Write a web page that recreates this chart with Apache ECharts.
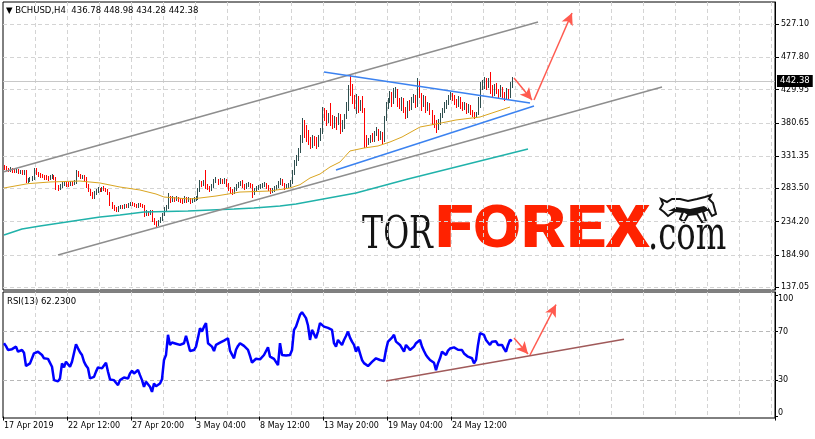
<!DOCTYPE html>
<html><head><meta charset="utf-8">
<script src="https://cdn.jsdelivr.net/npm/echarts@6/dist/echarts.min.js"></script>
<style>html,body{margin:0;padding:0;background:#fff;}#c{width:815px;height:439px;}</style>
</head><body><div id="c"></div>
<script>
const symbolName = 'BCHUSD,H4';
const xTickLabels = ['17 Apr 2019','22 Apr 12:00','27 Apr 20:00','3 May 04:00','8 May 12:00','13 May 20:00','19 May 04:00','24 May 12:00'];
const priceTicks = [137.05, 184.90, 234.20, 283.50, 331.35, 380.65, 429.95, 477.80, 527.10];
const rsiTicks = [0, 30, 70, 100];
const rsiLevels = [30, 70];

const opens = [316.0,313.7,312.2,310.7,312.2,310.7,309.3,310.7,307.8,309.3,
307.8,309.3,294.4,295.9,297.4,298.9,312.2,306.3,304.8,303.3,
301.8,300.4,299.8,298.9,300.4,301.8,298.9,285.5,284.1,287.0,
290.0,291.5,290.0,289.5,291.5,291.0,293.0,307.8,303.3,300.4,
301.8,298.9,288.5,281.1,276.7,272.2,276.7,279.6,282.6,281.1,
284.1,282.6,281.1,276.7,261.9,257.4,254.5,251.5,255.9,257.4,
255.9,258.9,257.4,260.4,261.9,260.4,258.9,257.4,260.4,258.9,
257.4,245.6,248.5,247.0,250.0,236.7,232.2,230.8,235.2,238.2,
245.6,253.0,255.9,269.3,266.3,269.3,267.8,269.3,267.8,266.3,
264.8,269.3,266.3,267.8,264.8,266.3,267.8,269.3,281.1,291.5,
290.0,293.0,287.0,285.5,282.6,287.0,294.4,295.9,293.0,295.9,
294.4,295.9,290.0,284.1,279.6,278.1,282.6,287.0,290.0,291.5,
287.0,285.5,288.5,290.0,288.5,276.7,281.1,284.1,285.5,287.0,
288.5,290.0,287.0,282.6,279.6,281.1,284.1,287.0,291.5,295.9,
290.0,285.5,287.0,288.5,293.0,307.8,322.6,328.5,340.4,355.2,
381.8,375.9,367.0,355.2,347.8,358.1,352.2,347.8,358.1,370.0,
399.6,396.6,384.8,392.2,380.3,377.4,387.7,381.8,392.2,372.9,
381.8,390.7,402.5,432.2,426.3,414.4,407.0,417.4,402.5,411.4,
399.6,355.2,350.7,353.7,359.6,355.2,367.0,370.0,358.1,365.5,
355.2,387.7,407.0,414.4,424.8,412.9,426.3,429.2,414.4,408.5,
414.4,402.5,390.7,408.5,402.5,415.9,420.3,408.5,441.1,421.8,
409.9,418.8,404.0,408.5,396.6,387.7,381.8,374.4,381.8,392.2,
399.6,407.0,411.4,418.8,423.3,420.3,411.4,408.5,417.4,407.0,
404.0,408.5,399.6,405.5,396.6,393.7,390.7,395.1,417.4,436.6,
438.1,445.5,435.1,444.0,429.2,423.3,435.1,426.3,421.8,432.2,
423.3,418.8,429.2,420.3,436.78];

const closes = [313.7,312.2,310.7,312.2,310.7,309.3,310.7,307.8,309.3,307.8,
309.3,294.4,295.9,297.4,298.9,312.2,306.3,304.8,303.3,301.8,
300.4,299.8,298.9,300.4,301.8,298.9,285.5,284.1,287.0,290.0,
291.5,290.0,289.5,291.5,291.0,293.0,307.8,303.3,300.4,301.8,
298.9,288.5,281.1,276.7,272.2,276.7,279.6,282.6,281.1,284.1,
282.6,281.1,276.7,261.9,257.4,254.5,251.5,255.9,257.4,255.9,
258.9,257.4,260.4,261.9,260.4,258.9,257.4,260.4,258.9,257.4,
245.6,248.5,247.0,250.0,236.7,232.2,230.8,235.2,238.2,245.6,
253.0,255.9,269.3,266.3,269.3,267.8,269.3,267.8,266.3,264.8,
269.3,266.3,267.8,264.8,266.3,267.8,269.3,281.1,291.5,290.0,
293.0,287.0,285.5,282.6,287.0,294.4,295.9,293.0,295.9,294.4,
295.9,290.0,284.1,279.6,278.1,282.6,287.0,290.0,291.5,287.0,
285.5,288.5,290.0,288.5,276.7,281.1,284.1,285.5,287.0,288.5,
290.0,287.0,282.6,279.6,281.1,284.1,287.0,291.5,295.9,290.0,
285.5,287.0,288.5,293.0,307.8,322.6,328.5,340.4,355.2,381.8,
375.9,367.0,355.2,347.8,358.1,352.2,347.8,358.1,370.0,399.6,
396.6,384.8,392.2,380.3,377.4,387.7,381.8,392.2,372.9,381.8,
390.7,402.5,432.2,426.3,414.4,407.0,417.4,402.5,411.4,399.6,
355.2,350.7,353.7,359.6,355.2,367.0,370.0,358.1,365.5,355.2,
387.7,407.0,414.4,424.8,412.9,426.3,429.2,414.4,408.5,414.4,
402.5,390.7,408.5,402.5,415.9,420.3,408.5,441.1,421.8,409.9,
418.8,404.0,408.5,396.6,387.7,381.8,374.4,381.8,392.2,399.6,
407.0,411.4,418.8,423.3,420.3,411.4,408.5,417.4,407.0,404.0,
408.5,399.6,405.5,396.6,393.7,390.7,395.1,417.4,436.6,438.1,
445.5,435.1,444.0,429.2,423.3,435.1,426.3,421.8,432.2,423.3,
418.8,429.2,420.3,436.78,442.38];

const highs = [317.5,316.0,314.0,314.6,313.5,312.0,313.8,311.9,311.4,310.5,
311.0,310.2,298.6,300.1,302.0,314.0,313.0,308.0,306.5,305.0,
303.4,302.7,302.0,303.6,304.5,303.0,300.2,288.0,290.0,292.5,
294.0,293.2,292.4,293.8,294.0,295.5,311.0,309.0,305.2,304.0,
303.0,300.0,290.0,283.0,278.4,279.0,282.4,285.2,284.6,286.0,
286.4,284.4,283.0,278.0,263.5,259.0,256.2,258.0,259.6,259.0,
261.0,260.5,262.5,264.0,263.4,262.0,260.6,262.2,261.8,260.0,
258.5,251.0,250.4,252.0,251.0,239.0,234.6,237.0,241.0,247.5,
255.5,259.0,276.7,272.0,272.5,271.0,272.0,271.2,270.0,268.5,
271.5,270.8,270.5,269.0,268.8,270.6,272.0,283.5,295.9,294.0,
296.5,310.7,290.0,287.5,289.5,297.0,300.4,297.8,299.0,298.0,
299.5,298.0,291.5,285.5,282.0,285.0,289.5,292.8,294.4,295.9,
290.0,291.0,292.5,292.0,290.5,284.0,286.5,288.0,289.6,291.0,
292.4,292.0,288.5,284.6,283.5,286.4,289.0,293.8,299.0,297.0,
291.5,290.0,291.8,296.0,310.7,325.5,333.0,343.3,362.6,387.7,
384.8,377.4,370.0,359.6,362.6,361.1,359.6,362.6,372.9,404.0,
402.5,399.6,395.1,409.9,392.2,390.7,389.2,395.1,393.7,384.8,
393.7,411.4,436.6,451.4,438.1,421.8,423.3,420.3,414.4,420.3,
402.5,362.6,358.1,362.6,365.5,368.5,374.4,371.4,368.5,367.0,
390.7,411.4,417.4,427.7,426.3,432.2,433.7,430.7,417.4,418.8,
417.4,404.0,412.9,414.4,418.8,423.3,421.8,447.0,442.5,424.8,
421.8,420.3,411.4,410.0,399.6,392.2,384.8,386.0,395.1,402.5,
411.4,414.4,421.8,426.3,424.8,421.8,415.9,420.3,418.8,411.4,
411.4,409.9,408.5,407.0,399.6,396.6,397.0,419.0,441.1,444.0,
448.5,447.0,447.0,455.9,436.6,438.1,440.0,430.7,436.6,433.7,
426.3,432.2,430.7,441.1,448.98];

const lows = [311.8,310.5,308.9,309.0,308.2,307.4,308.0,305.6,306.0,305.2,
305.5,292.5,292.8,294.5,296.0,297.5,304.4,302.5,301.0,299.9,
298.0,297.6,296.5,297.0,299.0,296.8,283.0,281.5,282.6,285.8,
288.6,287.5,287.0,288.0,289.0,289.8,292.0,301.5,298.5,298.8,
295.5,286.0,279.0,273.5,269.5,270.0,275.0,278.2,279.0,279.8,
280.5,279.0,274.5,259.6,255.0,252.0,249.5,250.2,254.0,254.0,
254.6,255.5,256.0,259.0,258.5,257.0,255.4,256.0,257.0,255.6,
243.0,244.2,244.6,245.5,234.5,230.5,226.3,228.8,233.5,236.8,
244.0,251.0,254.5,264.0,264.8,265.5,265.8,265.2,263.5,262.4,
263.2,263.8,264.5,262.5,263.0,264.7,266.0,268.0,279.5,287.0,
288.5,284.1,283.0,280.0,281.0,285.5,292.5,290.5,291.5,291.0,
292.0,287.5,281.5,277.0,275.2,276.5,281.0,285.5,288.0,285.5,
283.0,284.0,286.8,286.0,270.7,275.5,279.6,282.6,284.0,285.5,
286.8,284.8,280.5,276.8,277.5,279.8,282.6,285.5,290.0,287.8,
283.0,283.6,285.0,287.0,291.5,304.8,318.1,325.5,337.4,352.2,
359.6,353.7,349.2,343.3,345.0,347.8,343.3,346.3,355.2,366.0,
384.8,377.4,381.8,377.4,372.9,374.4,371.4,378.8,365.5,368.5,
372.9,387.7,399.6,421.8,409.9,402.5,395.1,396.6,399.6,396.6,
344.8,346.3,349.2,352.2,353.7,353.7,362.6,355.2,356.6,350.7,
353.7,384.8,402.5,411.4,405.5,409.9,418.8,405.5,402.5,399.6,
396.6,387.7,389.2,399.6,401.0,411.4,404.0,406.0,418.8,399.6,
405.5,396.6,399.6,393.7,378.8,374.4,367.0,371.4,378.8,389.2,
396.6,403.0,408.5,415.9,414.4,408.5,404.0,405.5,403.0,399.6,
401.0,395.1,396.6,393.7,390.7,387.7,389.2,393.7,404.0,430.7,
432.2,430.7,433.7,425.0,420.3,421.8,424.8,418.8,420.3,418.8,
414.4,417.4,417.4,418.8,434.28];

const rsiValues = [60.4,58.0,54.8,55.0,55.5,56.2,57.6,53.4,54.0,54.8,
52.6,41.6,43.0,43.8,45.0,52.1,52.5,53.4,52.0,50.7,
48.0,48.5,47.5,47.1,41.0,30.0,28.6,29.0,31.4,43.8,
40.5,45.2,44.0,41.0,45.2,46.6,59.6,56.2,53.0,50.7,
45.2,42.0,39.7,31.4,30.0,32.7,37.0,40.5,39.5,39.7,
41.0,44.3,36.9,30.6,30.0,30.0,27.8,25.9,30.0,31.0,
32.2,31.5,31.4,35.5,37.7,35.5,36.0,38.3,34.1,30.0,
24.5,28.6,30.0,24.5,20.3,27.2,25.0,26.0,27.2,30.8,
46.6,50.7,67.3,59.0,61.0,60.4,60.0,59.5,59.0,59.5,
60.4,66.4,60.4,54.0,54.5,54.8,57.6,65.0,72.8,70.0,
74.0,77.0,60.4,59.0,57.6,54.0,59.0,60.0,60.9,61.5,
62.6,63.5,64.5,54.3,51.0,48.0,55.0,58.2,60.4,59.5,
58.2,59.0,55.0,49.9,44.5,43.8,47.6,47.3,47.1,48.0,
50.7,52.0,57.1,49.3,48.0,47.5,46.6,42.4,60.4,50.7,
51.5,50.2,50.9,50.7,54.8,71.4,74.1,79.0,83.8,86.0,
87.4,81.1,75.0,63.1,71.4,70.0,64.5,70.0,77.0,76.0,
74.1,73.5,73.0,72.8,71.4,60.4,57.6,63.1,61.0,59.0,
63.1,66.4,70.0,65.0,61.7,59.0,53.4,57.6,52.0,46.6,
44.0,42.4,41.6,43.0,45.0,46.6,48.0,47.3,46.6,46.0,
45.7,55.0,61.7,63.1,65.0,67.3,61.7,60.4,59.0,57.6,
53.4,59.0,57.0,54.8,56.0,57.6,60.4,62.0,63.1,57.6,
54.0,50.7,48.5,46.6,45.0,44.3,38.3,43.8,48.0,53.4,
52.0,50.7,54.3,56.0,57.6,57.0,56.2,55.0,53.4,54.8,
52.0,50.7,49.3,48.5,48.0,43.8,46.6,59.0,68.7,68.0,
67.3,63.1,61.0,59.0,61.7,63.1,62.0,59.0,59.5,59.0,
56.0,53.4,59.0,63.1,62.23];

// moving averages read at bar index [bar, price]
const maFast = [[0,284.1],[12,290.5],[23,293.0],[38,294.4],[48,291.5],[58,285.5],[68,281.1],[76,275.2],[80,270.7],[86,269.3],[93,267.8],[98,269.3],[106,272.2],[118,278.1],[133,279.6],[143,284.1],[148,289.0],[153,298.9],[158,304.8],[163,315.2],[168,322.6],[173,338.9],[180,343.3],[187,346.3],[193,352.2],[199,359.6],[208,374.4],[216,378.8],[226,384.8],[238,389.2],[244,395.1],[253,404.0]];
const maSlow = [[0,214.5],[9,223.4],[18,227.8],[28,232.2],[38,236.7],[48,241.1],[58,244.1],[70,248.5],[92,250.0],[115,253.0],[125,254.5],[138,257.4],[146,260.4],[176,276.7],[202,297.4],[262,341.8]];

// drawn objects: [bar index, value]
const channelLines = [[[0,308.2],[267,529.9]], [[26.5,184.9],[329,433.7]]];
const triangleLines = [[[159.5,455.9],[263,410.0]], [[165.5,310.7],[264.5,405.5]]];
const priceArrows = [[[255,447.0],[264,414.4]], [[264.5,414.4],[283.5,543.3]]];
const rsiTrend = [[[190.5,29.2],[309.5,63.7]]];
const rsiArrows = [[[254.5,64.8],[262,51.5]], [[263,50.7],[275.5,92.2]]];

const slotCount = 386;
const categories = Array.from({length: slotCount}, (_, k) => String(k));
const tickEvery = 32, gridEvery = 16;
const lastPrice = closes[closes.length - 1];
const FONT = 'DejaVu Sans';
const UP = '#2f4f4f', DOWN = '#ff0000';

const barRows = opens.map((o, i) => [i, o, closes[i], lows[i], highs[i]]);
const isLabelSlot = (i) => i % tickEvery === 0 && (i / tickEvery) < xTickLabels.length;

function segs(list, color, width, arrow) {
  return list.map(s => [
    {coord: s[0], symbol: 'none', lineStyle: {color: color, width: width, type: 'solid'}},
    {coord: s[1], symbol: arrow ? 'arrow' : 'none', symbolSize: arrow ? [9, 12] : 0}
  ]);
}

function renderBar(params, api) {
  const i = api.value(0);
  const o = api.value(1), c = api.value(2);
  const hi = api.coord([i, api.value(4)]);
  const lo = api.coord([i, api.value(3)]);
  const x = Math.floor(hi[0]) + 0.5;
  return {
    type: 'line',
    shape: {x1: x, y1: Math.round(hi[1]), x2: x, y2: Math.round(lo[1]) + 1},
    style: {stroke: c < o ? DOWN : UP, lineWidth: 1}
  };
}

const chart = echarts.init(document.getElementById('c'), null, {renderer: 'canvas'});
const option = {
  animation: false,
  backgroundColor: '#ffffff',
  title: [
    {left: 6, top: 6, padding: 0, text: '\u25BC ' + symbolName + '  436.78 448.98 434.28 442.38',
     textStyle: {fontSize: 8.5, fontWeight: 'normal', fontFamily: FONT, color: '#000'}},
    {left: 7, top: 297, padding: 0, text: 'RSI(13) 62.2300',
     textStyle: {fontSize: 8.5, fontWeight: 'normal', fontFamily: FONT, color: '#000'}}
  ],
  grid: [
    {left: 3, right: 40, top: 2, height: 288, show: true, borderColor: '#000', borderWidth: 1, backgroundColor: 'transparent'},
    {left: 3, right: 40, top: 292, height: 126, show: true, borderColor: '#000', borderWidth: 1, backgroundColor: 'transparent'}
  ],
  xAxis: [
    {type: 'category', gridIndex: 0, data: categories, boundaryGap: true,
     axisLine: {show: false}, axisTick: {show: false}, axisLabel: {show: false},
     splitLine: {show: true, interval: (i) => i % gridEvery === 0 && i > 0, lineStyle: {color: '#d4d4d4', type: [4, 3], width: 1}}},
    {type: 'category', gridIndex: 1, data: categories, boundaryGap: true,
     axisLine: {show: false},
     axisTick: {show: true, interval: (i) => isLabelSlot(i), length: 4, lineStyle: {color: '#000'}},
     axisLabel: {show: true, interval: (i) => isLabelSlot(i), align: 'left', margin: 4,
       formatter: (v) => { const k = Number(v); return isLabelSlot(k) ? xTickLabels[k / tickEvery] : ''; },
       fontSize: 8, fontFamily: FONT, color: '#000'},
     splitLine: {show: true, interval: (i) => i % gridEvery === 0 && i > 0, lineStyle: {color: '#d4d4d4', type: [4, 3], width: 1}}}
  ],
  yAxis: [
    {type: 'value', gridIndex: 0, position: 'right', min: 133.05, max: 559.5, scale: true,
     axisLine: {show: true, lineStyle: {color: '#000'}},
     axisTick: {show: true, customValues: priceTicks, length: 4, lineStyle: {color: '#000'}},
     axisLabel: {show: true, customValues: priceTicks, margin: 6, formatter: (v) => v.toFixed(2), fontSize: 8, fontFamily: FONT, color: '#000'},
     splitLine: {show: false}},
    {type: 'value', gridIndex: 1, position: 'right', min: -1.2, max: 102.6,
     axisLine: {show: true, lineStyle: {color: '#000'}},
     axisTick: {show: true, customValues: rsiTicks, length: 3, lineStyle: {color: '#000'}},
     axisLabel: {show: true, customValues: rsiTicks, margin: 3,
       formatter: (v) => v === 100 ? '{top|100}' : (v === 0 ? '{bot|0}' : String(v)),
       rich: {top: {padding: [8, 0, 0, 0], fontSize: 8, fontFamily: FONT, color: '#000'},
              bot: {padding: [0, 0, 7, 0], fontSize: 8, fontFamily: FONT, color: '#000'}},
       fontSize: 8, fontFamily: FONT, color: '#000'},
     splitLine: {show: false}}
  ],
  graphic: [
    {type: 'text', x: 362, y: 237, scaleX: 0.72, z: 0, silent: true,
     style: {text: 'TOR', fontFamily: 'DejaVu Serif', fontSize: 44, fill: '#141414', align: 'left', verticalAlign: 'middle'}},
    {type: 'text', x: 435, y: 232, scaleX: 1.16, z: 0, silent: true,
     style: {text: 'FOREX', fontFamily: 'Roboto', fontWeight: 900, fontSize: 60, fill: '#ff2200', align: 'left', verticalAlign: 'middle'}},
    {type: 'text', x: 648, y: 237, scaleX: 0.7, z: 0, silent: true,
     style: {text: '.com', fontFamily: 'DejaVu Serif', fontSize: 46, fill: '#141414', align: 'left', verticalAlign: 'middle'}},
    {type: 'polygon', z: 0, silent: true,
     shape: {points: [[660,209],[663,204],[661,199],[667,202],[672,199],[680,199],[688,201],[697,199],[705,197],[711,195],[709,199],[713,203],[716,214],[712,216],[708,209],[703,212],[706,221],[702,222],[697,214],[688,215],[684,222],[680,219],[683,212],[675,211],[668,216],[664,212]]},
     style: {fill: '#ffffff', stroke: '#141414', lineWidth: 2}},
    {type: 'polygon', z: 0, silent: true,
     shape: {points: [[668,211],[676,207],[690,209],[704,206],[712,211],[708,209],[703,212],[697,214],[688,215],[683,212],[675,211]]},
     style: {fill: '#141414'}}
  ],
  series: [
    {name: 'grid-main', type: 'line', xAxisIndex: 0, yAxisIndex: 0, data: [], silent: true,
     markLine: {silent: true, z: 1, symbol: ['none', 'none'],
       lineStyle: {color: '#d4d4d4', type: [4, 3], width: 1},
       label: {show: false},
       data: priceTicks.map(v => ({yAxis: v})).concat([{yAxis: lastPrice,
         lineStyle: {color: '#c8c8c8', type: 'solid', width: 1},
         label: {show: true, position: 'end', distance: 2, formatter: lastPrice.toFixed(2), color: '#fff', backgroundColor: '#000',
           padding: [2, 3, 1, 3], fontSize: 8.5, fontFamily: FONT}}])}},
    {name: 'grid-rsi', type: 'line', xAxisIndex: 1, yAxisIndex: 1, data: [], silent: true,
     markLine: {silent: true, z: 1, symbol: ['none', 'none'],
       lineStyle: {color: '#b8b8b8', type: [4, 3], width: 1}, label: {show: false},
       data: rsiLevels.map(v => ({yAxis: v}))}},
    {name: symbolName, type: 'custom', xAxisIndex: 0, yAxisIndex: 0, data: barRows,
     encode: {x: 0, y: [1, 2, 3, 4]}, renderItem: renderBar, z: 2, silent: true,
     markLine: {silent: true, z: 5, animation: false, label: {show: false},
       data: segs(channelLines, '#8e8e8e', 1.5, false)
         .concat(segs(triangleLines, '#3b82f0', 1.5, false))
         .concat(segs(priceArrows, '#ff5a4f', 1.5, true))}},
    {name: 'MA fast', type: 'line', xAxisIndex: 0, yAxisIndex: 0, data: maFast, showSymbol: false, symbol: 'none',
     lineStyle: {color: '#daa520', width: 1}, z: 3},
    {name: 'MA slow', type: 'line', xAxisIndex: 0, yAxisIndex: 0, data: maSlow, showSymbol: false, symbol: 'none',
     lineStyle: {color: '#20b2aa', width: 1.5}, z: 3},
    {name: 'RSI(13)', type: 'line', xAxisIndex: 1, yAxisIndex: 1, data: rsiValues, showSymbol: false, symbol: 'none',
     lineStyle: {color: '#0000ff', width: 2.5}, z: 3,
     markLine: {silent: true, z: 4, label: {show: false},
       data: segs(rsiTrend, '#a05a5a', 1.5, false).concat(segs(rsiArrows, '#ff5a4f', 1.5, true))}}
  ]
};
chart.setOption(option);
</script>
</body></html>
